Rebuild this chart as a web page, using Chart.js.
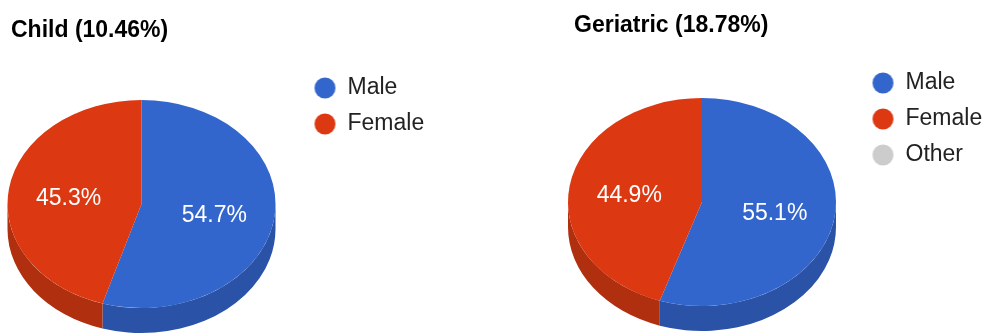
<!DOCTYPE html>
<html>
<head>
<meta charset="utf-8">
<script src="https://cdn.jsdelivr.net/npm/chart.js@4.4.1/dist/chart.umd.min.js"></script>
<style>
html, body { margin: 0; padding: 0; background: #fff; overflow: hidden; width: 987px; height: 334px; }
.wrap { position: absolute; top: 0; }
canvas { display: block; }
</style>
</head>
<body>
<div class="wrap" style="left:0px"><canvas id="child" width="430" height="350"></canvas></div>
<div class="wrap" style="left:493px"><canvas id="geriatric" width="494" height="350"></canvas></div>
<script>
// ---- data ----
const childTitle = 'Child (10.46%)';
const childLabels = ['Male', 'Female'];
const childValues = [54.7, 45.3];

const geriatricTitle = 'Geriatric (18.78%)';
const geriatricLabels = ['Male', 'Female', 'Other'];
const geriatricValues = [55.1, 44.9, 0];

// ---- style ----
const TOP_COLORS  = ['#3366cc', '#dc3912', '#cccccc'];
const SIDE_COLORS = ['#2a52a6', '#b02f0f', '#a3a3a3'];
const FONT = 'Arial, "Liberation Sans", Helvetica, sans-serif';
const TILT = 104 / 134;     // vertical squash of the disc
const DEPTH = 25;           // thickness of the 3D side
const LABEL_RADIUS = 0.55;  // slice label distance (fraction of radius)
const LABEL_DY = 3;

function makeDot(color) {
  const c = document.createElement('canvas');
  c.width = 52; c.height = 24;
  const g = c.getContext('2d');
  g.fillStyle = color;
  g.beginPath();
  g.arc(40.5, 12, 10.5, 0, Math.PI * 2);
  g.fill();
  return c;
}
const DOTS = TOP_COLORS.map(makeDot);

function frontSegments(a1, a2) {
  const out = [];
  for (let k = -2; k <= 2; k++) {
    const lo = Math.max(a1, k * 2 * Math.PI);
    const hi = Math.min(a2, k * 2 * Math.PI + Math.PI);
    if (hi > lo) out.push([lo, hi]);
  }
  return out;
}

const pie3d = {
  id: 'pie3d',
  beforeDatasetsDraw(chart) {
    const ctx = chart.ctx;
    const arcs = chart.getDatasetMeta(0).data;
    chart.$saved = false;
    if (!arcs.length) return;
    const x = arcs[0].x, y = arcs[0].y;
    arcs.forEach((a, i) => {
      const r = a.outerRadius, ry = r * TILT;
      frontSegments(a.startAngle, a.endAngle).forEach(([s1, s2]) => {
        ctx.beginPath();
        ctx.ellipse(x, y, r, ry, 0, s1, s2, false);
        ctx.ellipse(x, y + DEPTH, r, ry, 0, s2, s1, true);
        ctx.closePath();
        ctx.fillStyle = SIDE_COLORS[i];
        ctx.fill();
      });
    });
    ctx.save();
    ctx.translate(x, y);
    ctx.scale(1, TILT);
    ctx.translate(-x, -y);
    chart.$saved = true;
  },
  afterDatasetsDraw(chart) {
    const ctx = chart.ctx;
    if (chart.$saved) ctx.restore();
    const arcs = chart.getDatasetMeta(0).data;
    const values = chart.data.datasets[0].data;
    const total = values.reduce((s, v) => s + v, 0);
    ctx.save();
    ctx.fillStyle = '#ffffff';
    ctx.font = '23px ' + FONT;
    ctx.textAlign = 'center';
    ctx.textBaseline = 'middle';
    arcs.forEach((a, i) => {
      const v = values[i];
      if (!v) return;
      const mid = (a.startAngle + a.endAngle) / 2;
      const d = a.outerRadius * LABEL_RADIUS;
      const lx = a.x + Math.cos(mid) * d;
      const ly = a.y + Math.sin(mid) * d * TILT + LABEL_DY;
      ctx.fillText((v / total * 100).toFixed(1) + '%', lx, ly);
    });
    ctx.restore();
  }
};

function makeChart(id, title, labels, values, opt) {
  return new Chart(document.getElementById(id), {
    type: 'pie',
    data: {
      labels: labels,
      datasets: [{ data: values, backgroundColor: TOP_COLORS.slice(0, labels.length), borderWidth: 0, clip: false }]
    },
    options: {
      responsive: false,
      animation: false,
      devicePixelRatio: 1,
      events: [],
      radius: 134,
      layout: { padding: { left: opt.padLeft, right: 0, top: 0, bottom: opt.padBottom } },
      plugins: {
        tooltip: { enabled: false },
        title: {
          display: true, text: title, align: 'start', color: '#000000',
          font: { family: FONT, size: 23, weight: 'bold', lineHeight: 1.2 },
          padding: { top: opt.titleTop, bottom: 18.7 }
        },
        legend: {
          position: 'right', align: 'start', fullSize: false, maxWidth: opt.legendWidth,
          labels: {
            usePointStyle: true, pointStyleWidth: 51, boxHeight: 23, padding: 13,
            color: '#222222', font: { family: FONT, size: 23 },
            generateLabels: (chart) => chart.data.labels.map((text, i) => ({
              text: text, index: i, hidden: false, textAlign: 'left',
              fillStyle: TOP_COLORS[i], strokeStyle: TOP_COLORS[i], lineWidth: 0,
              fontColor: '#222222', pointStyle: DOTS[i]
            }))
          }
        }
      }
    },
    plugins: [pie3d]
  });
}

makeChart('child', childTitle, childLabels, childValues,
  { padLeft: 11, padBottom: 5.5, titleTop: 17.2, legendWidth: 158 });
makeChart('geriatric', geriatricTitle, geriatricLabels, geriatricValues,
  { padLeft: 81, padBottom: 4.5, titleTop: 12.2, legendWidth: 157 });
</script>
</body>
</html>
